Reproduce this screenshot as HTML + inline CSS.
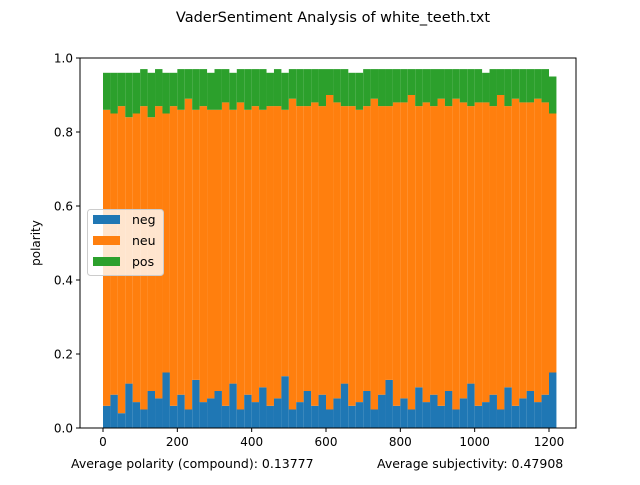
<!DOCTYPE html>
<html><head><meta charset="utf-8"><style>
body{margin:0;background:#fff;font-family:"Liberation Sans","DejaVu Sans",sans-serif}
svg text{font-family:"DejaVu Sans","Liberation Sans",sans-serif}
</style></head><body>
<svg id="c" width="640" height="480" xmlns="http://www.w3.org/2000/svg">
<rect width="640" height="480" fill="#fff"/>
<text x="333" y="22" text-anchor="middle" font-size="14.5">VaderSentiment Analysis of white_teeth.txt</text>
<g id="bars"></g>
<rect x="80" y="58" width="496" height="370" fill="none" stroke="#000" stroke-width="1"/>
<g id="axes"></g>
<text transform="translate(40,243) rotate(-90)" text-anchor="middle" font-size="12">polarity</text>
<text x="71" y="468" font-size="12.5">Average polarity (compound): 0.13777</text>
<text x="377" y="468" font-size="12.5">Average subjectivity: 0.47908</text>
<g>
<rect x="87.5" y="209.5" width="76" height="66" rx="3" fill="#fff" fill-opacity="0.8" stroke="#ccc"/>
<g><rect x="93" y="215" width="27" height="9" fill="#1f77b4"/><text x="132" y="224" font-size="12.5">neg</text></g>
<g><rect x="93" y="236" width="27" height="9" fill="#ff7f0e"/><text x="132" y="245" font-size="12.5">neu</text></g>
<g><rect x="93" y="257" width="27" height="9" fill="#2ca02c"/><text x="132" y="266" font-size="12.5">pos</text></g>
</g>
</svg>
<script>
const step = 20;
const neg = [0.06,0.09,0.04,0.12,0.07,0.05,0.10,0.08,0.15,0.06,0.09,0.05,0.13,0.07,0.08,0.10,0.06,0.12,0.05,0.09,0.07,0.11,0.06,0.08,0.14,0.05,0.07,0.10,0.06,0.09,0.05,0.08,0.12,0.06,0.07,0.10,0.05,0.09,0.13,0.06,0.08,0.05,0.11,0.07,0.09,0.06,0.10,0.05,0.08,0.12,0.06,0.07,0.09,0.05,0.11,0.06,0.08,0.10,0.07,0.09,0.15];
const neu = [0.80,0.76,0.83,0.72,0.78,0.82,0.74,0.79,0.70,0.81,0.77,0.84,0.73,0.80,0.78,0.76,0.82,0.74,0.83,0.77,0.80,0.75,0.81,0.79,0.72,0.84,0.80,0.77,0.82,0.78,0.85,0.80,0.75,0.81,0.79,0.77,0.84,0.78,0.74,0.82,0.80,0.85,0.76,0.81,0.78,0.83,0.77,0.84,0.80,0.75,0.82,0.81,0.78,0.85,0.76,0.83,0.80,0.78,0.82,0.79,0.70];
const pos = [0.10,0.11,0.09,0.12,0.11,0.10,0.12,0.10,0.11,0.09,0.11,0.08,0.11,0.10,0.10,0.11,0.09,0.10,0.09,0.11,0.10,0.11,0.09,0.10,0.10,0.08,0.10,0.10,0.09,0.10,0.07,0.09,0.10,0.09,0.10,0.10,0.08,0.10,0.10,0.09,0.09,0.07,0.10,0.09,0.10,0.08,0.10,0.08,0.09,0.10,0.09,0.08,0.10,0.07,0.10,0.08,0.09,0.09,0.08,0.09,0.10];
const yTicks = [0.0,0.2,0.4,0.6,0.8,1.0];
const xTicks = [0,200,400,600,800,1000,1200];
const NS="http://www.w3.org/2000/svg";
function xs(v){return 103 + v*(446/1200);}
function ys(v){return 428 - v*370;}
const bars=document.getElementById('bars');
const w = step*(446/1200);
for(let i=0;i<neg.length;i++){
  const x0 = xs(i*step);
  const segs=[[0,neg[i],'#1f77b4','neg'],[neg[i],neg[i]+neu[i],'#ff7f0e','neu'],[neg[i]+neu[i],neg[i]+neu[i]+pos[i],'#2ca02c','pos']];
  segs.forEach(s=>{
    const r=document.createElementNS(NS,'rect');
    r.setAttribute('x',x0);r.setAttribute('width',w);
    const top=Math.min(s[1],1);
    r.setAttribute('y',ys(top));r.setAttribute('height',Math.max(0,ys(s[0])-ys(top)));
    r.setAttribute('fill',s[2]);
    
    
    bars.appendChild(r);
  });
}
const ax=document.getElementById('axes');
yTicks.forEach(t=>{
  const y=ys(t);
  const l=document.createElementNS(NS,'line');
  l.setAttribute('x1',76);l.setAttribute('x2',80);l.setAttribute('y1',y);l.setAttribute('y2',y);l.setAttribute('stroke','#000');
  
  
  ax.appendChild(l);
  const tx=document.createElementNS(NS,'text');
  tx.setAttribute('x',73);tx.setAttribute('y',y+4.5);tx.setAttribute('text-anchor','end');tx.setAttribute('font-size','12');
  tx.textContent=t.toFixed(1);
  
  
  ax.appendChild(tx);
});
xTicks.forEach(t=>{
  const x=xs(t);
  const l=document.createElementNS(NS,'line');
  l.setAttribute('x1',x);l.setAttribute('x2',x);l.setAttribute('y1',428);l.setAttribute('y2',432);l.setAttribute('stroke','#000');
  
  
  ax.appendChild(l);
  const tx=document.createElementNS(NS,'text');
  tx.setAttribute('x',x);tx.setAttribute('y',446);tx.setAttribute('text-anchor','middle');tx.setAttribute('font-size','12');
  tx.textContent=t;
  
  
  ax.appendChild(tx);
});
</script>
</body></html>
